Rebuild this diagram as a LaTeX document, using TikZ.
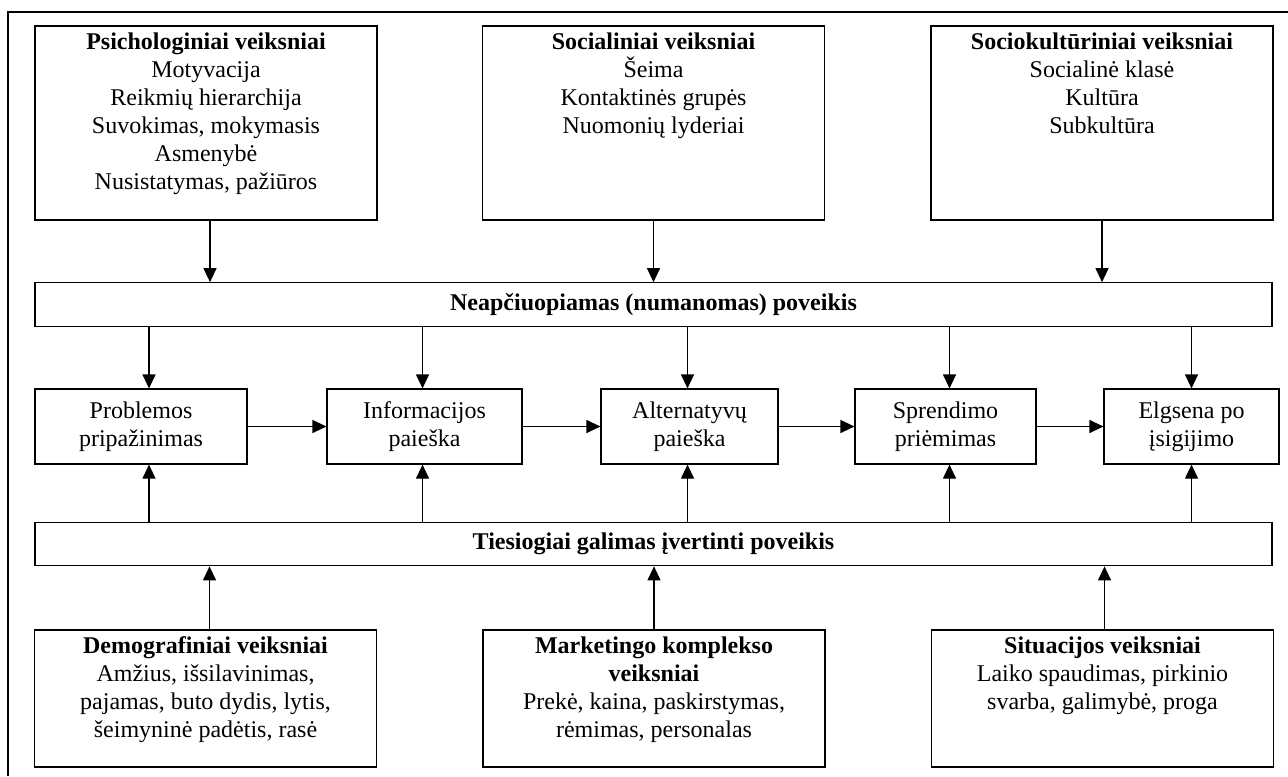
\documentclass[tikz,border=0pt]{standalone}
\usepackage{fontspec}
\setmainfont{Liberation Serif}
\usepackage{tikz}
\usepackage{xcolor}
\usetikzlibrary{shapes,arrows.meta,positioning}
\tikzstyle{box} = [rectangle, draw, line width=0.6pt, inner sep=0pt]
\tikzstyle{factor} = [box, minimum width=171pt, minimum height=97pt]
\tikzstyle{lowfactor} = [box, minimum width=171pt, minimum height=68.5pt]
\tikzstyle{bar} = [box, minimum width=618.5pt, minimum height=21.75pt,
    font=\fontsize{12}{14}\selectfont\bfseries]
\tikzstyle{stage} = [box, align=center, minimum height=37.5pt]
\tikzstyle{boxtext} = [align=center, inner sep=3.5pt, anchor=north]
\tikzstyle{line} = [draw, line width=0.6pt, -{Triangle[length=7pt,width=6.5pt]}]

\begin{document}
\begin{tikzpicture}[x=0.5pt, y=-0.5pt, font=\fontsize{12}{14}\selectfont]
        \useasboundingbox (0,0) rectangle (1288,776);
        \draw[line width=0.9pt] (8,776) -- (8,12) -- (1288,12);

        \node [factor] (psych) at (206,123) {};
        \node [factor] (social) at (653.5,123) {};
        \node [factor] (socio) at (1102,123) {};
        \node [boxtext] (psychtxt) at (psych.north) {\textbf{Psichologiniai veiksniai}\\Motyvacija\\Reikmių hierarchija\\Suvokimas, mokymasis\\Asmenybė\\Nusistatymas, pažiūros};
        \node [boxtext] (socialtxt) at (social.north) {\textbf{Socialiniai veiksniai}\\Šeima\\Kontaktinės grupės\\Nuomonių lyderiai};
        \node [boxtext] (sociotxt) at (socio.north) {\textbf{Sociokultūriniai veiksniai}\\Socialinė klasė\\Kultūra\\Subkultūra};

        \node [bar] (neap) at (653.5,304.5) {Neapčiuopiamas (numanomas) poveikis};

        \node [stage, minimum width=106pt] (probl) at (141,426.5) {Problemos\\pripažinimas};
        \node [stage, minimum width=97.5pt] (info) at (424.5,426.5) {Informacijos\\paieška};
        \node [stage, minimum width=88.5pt] (alt) at (689.5,426.5) {Alternatyvų\\paieška};
        \node [stage, minimum width=90.5pt] (spr) at (945.5,426.5) {Sprendimo\\priėmimas};
        \node [stage, minimum width=87.5pt] (elg) at (1191.5,426.5) {Elgsena po\\įsigijimo};

        \node [bar] (ties) at (653.5,544) {Tiesiogiai galimas įvertinti poveikis};

        \node [lowfactor] (demo) at (205.5,698.5) {};
        \node [lowfactor] (mark) at (654,698.5) {};
        \node [lowfactor] (situ) at (1102.5,698.5) {};
        \node [boxtext] (demotxt) at (demo.north) {\textbf{Demografiniai veiksniai}\\Amžius, išsilavinimas,\\pajamas, buto dydis, lytis,\\šeimyninė padėtis, rasė};
        \node [boxtext] (marktxt) at (mark.north) {\textbf{Marketingo komplekso}\\\textbf{veiksniai}\\Prekė, kaina, paskirstymas,\\rėmimas, personalas};
        \node [boxtext] (situtxt) at (situ.north) {\textbf{Situacijos veiksniai}\\Laiko spaudimas, pirkinio\\svarba, galimybė, proga};

        \foreach \n/\dx in {psych/2pt, social/0pt, socio/0pt}
            \path [line] ([xshift=\dx]\n.south) -- ([xshift=\dx]\n.south |- neap.north);
        \foreach \n/\dx in {demo/2pt, mark/0pt, situ/1pt}
            \path [line] ([xshift=\dx]\n.north) -- ([xshift=\dx]\n.north |- ties.south);
        \foreach \n/\dx in {probl/4pt, info/-1pt, alt/-1pt, spr/2pt, elg/0pt} {
            \path [line] ([xshift=\dx]\n.north |- neap.south) -- ([xshift=\dx]\n.north);
            \path [line] ([xshift=\dx]\n.south |- ties.north) -- ([xshift=\dx]\n.south);
        }
        \path [line] (probl) -- (info);
        \path [line] (info) -- (alt);
        \path [line] (alt) -- (spr);
        \path [line] (spr) -- (elg);
    \end{tikzpicture}
\end{document}
